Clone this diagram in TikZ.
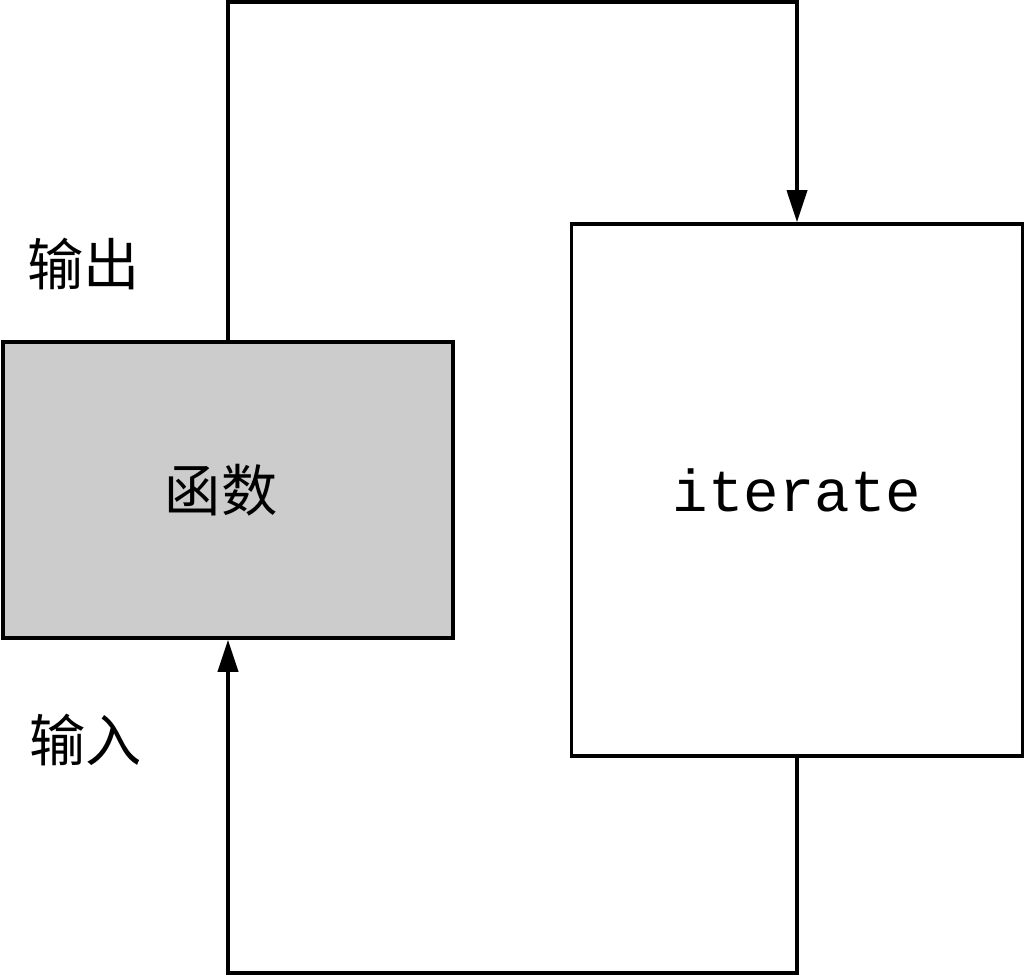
\documentclass[tikz,border=0pt]{standalone}
\usepackage{fontspec}
\setmonofont{Liberation Mono}
\newfontfamily\cjk{Noto Sans CJK SC}
\usetikzlibrary{arrows.meta}
\definecolor{funcgray}{RGB}{204,204,204}
\tikzset{
  box/.style={draw, line width = 2.5pt, inner sep = 0pt},
  flowarrow/.style={line width = 2.5pt, -{Triangle[length = .8cm, width = .5cm]}},
  lbl/.style={font = \cjk\fontsize{40}{48}\selectfont}
}
\begin{document}
\begin{tikzpicture}
        \useasboundingbox(0, 0) rectangle (25.6, -24.4);
        %%boxes
        \node[box, fill = funcgray, minimum width = 11.25cm, minimum height = 7.4cm, lbl](func) at(5.7, -12.25){函数\kern.35cm};
        \node[box, fill = white, minimum width = 11.275cm, minimum height = 13.3cm, font = \ttfamily\fontsize{42}{50}\selectfont](iter) at(19.925, -12.25){iterate};
        %%labels
        \node[lbl](out) at(2.1, -6.6){输出};
        \node[lbl](in) at(2.15, -18.5){输入};
        %%corners
        \coordinate(topl) at(5.7, -0.05);
        \coordinate(topr) at(19.925, -0.05);
        \coordinate(botr) at(19.925, -24.325);
        \coordinate(botl) at(5.7, -24.325);
            \draw[flowarrow](func.north) to (topl) to (topr) to (iter.north);
            \draw[flowarrow](iter.south) to (botr) to (botl) to (func.south);
\end{tikzpicture}
\end{document}
